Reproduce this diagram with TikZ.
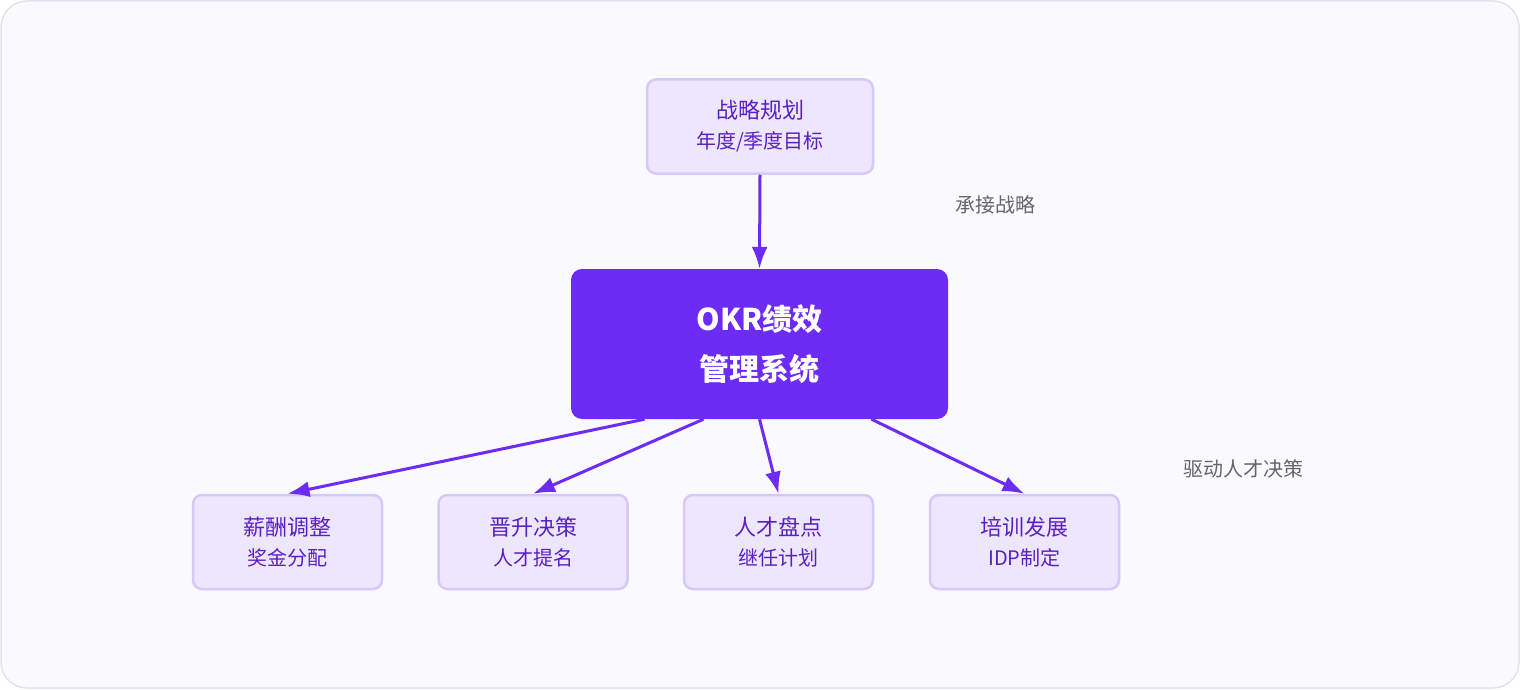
\documentclass[tikz,border=0pt]{standalone}
\usepackage{fontspec}
\setmainfont{Noto Sans CJK SC}
\usetikzlibrary{arrows.meta}
\definecolor{panelbg}{HTML}{FAFAFE}
\definecolor{panelln}{HTML}{E4E2EE}
\definecolor{boxbg}{HTML}{EDE7FD}
\definecolor{boxln}{HTML}{D5C9F9}
\definecolor{boxtx}{HTML}{5B1FC4}
\definecolor{corebg}{HTML}{6D2BF6}
\definecolor{notetx}{HTML}{666666}

\begin{document}
\begin{tikzpicture}[x=1pt,y=1pt,yscale=-1,
  leaf/.style={draw=boxln,fill=boxbg,line width=2.5pt,rounded corners=9pt,
    minimum width=189pt,minimum height=94pt,align=center,text=boxtx,
    font=\fontsize{22}{30}\selectfont},
  core/.style={fill=corebg,rounded corners=11pt,minimum width=377pt,
    minimum height=150pt,align=center,text=white,
    font=\fontsize{30}{50}\selectfont\bfseries},
  flow/.style={draw=corebg,line width=3pt,-{Latex[length=22pt,width=16pt]}},
  note/.style={text=notetx,font=\fontsize{20}{24}\selectfont}]

% panel
\draw[draw=panelln,fill=panelbg,line width=1.5pt,rounded corners=26pt] (1,1) rectangle (1519,688);
\useasboundingbox (0,0) rectangle (1520,690);

% nodes
\node[leaf,minimum width=226pt] (plan) at (760,126.5) {战略规划\\{\fontsize{20}{24}\selectfont 年度/季度目标}};
\node[core] (okr) at (759.5,344) {OKR绩效\\管理系统};
\node[leaf] (pay) at (287.5,542) {薪酬调整\\{\fontsize{20}{24}\selectfont 奖金分配}};
\node[leaf] (promo) at (533,542) {晋升决策\\{\fontsize{20}{24}\selectfont 人才提名}};
\node[leaf] (talent) at (778.5,542) {人才盘点\\{\fontsize{20}{24}\selectfont 继任计划}};
\node[leaf] (train) at (1024.5,542) {培训发展\\{\fontsize{20}{24}\selectfont IDP制定}};

% notes
\node[note] (n1) at (995,205) {承接战略};
\node[note] (n2) at (1243,469) {驱动人才决策};

% connectors
\draw[flow] (plan.south) -- (okr.north);
\draw[flow] ([xshift=-115pt]okr.south) -- (pay.north);
\draw[flow] ([xshift=-56pt]okr.south) -- (promo.north);
\draw[flow] (okr.south) -- (talent.north);
\draw[flow] ([xshift=112pt]okr.south) -- (train.north);

\end{tikzpicture}
\end{document}
